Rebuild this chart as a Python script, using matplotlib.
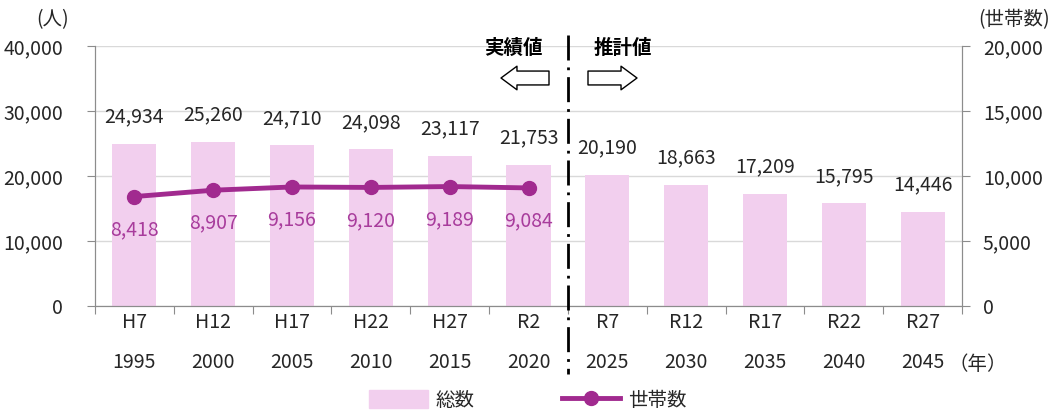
import matplotlib.pyplot as plt
from matplotlib.lines import Line2D
from matplotlib.patches import Patch
import matplotlib.transforms as mtransforms

plt.rcParams['font.family'] = ['Noto Sans CJK JP', 'DejaVu Sans']

# 和暦・西暦
wareki = ['H7', 'H12', 'H17', 'H22', 'H27', 'R2', 'R7', 'R12', 'R17', 'R22', 'R27']
seireki = ['1995', '2000', '2005', '2010', '2015', '2020', '2025', '2030', '2035', '2040', '2045']
# 総数（人）
sousu = [24934, 25260, 24710, 24098, 23117, 21753, 20190, 18663, 17209, 15795, 14446]
# 世帯数（実績値のみ）
setaisu = [8418, 8907, 9156, 9120, 9189, 9084]

BAR_COLOR = '#F2CFEE'
LINE_COLOR = '#A12A8F'
TEXT_COLOR = '#262626'
AXIS_COLOR = '#8C8C8C'
FS = 14

fig = plt.figure(figsize=(10.57, 4.12), dpi=100)
ax = fig.add_axes([95 / 1057, 1 - 306 / 412, (962 - 95) / 1057, 260 / 412])
ax2 = ax.twinx()

x = list(range(len(sousu)))
ax.bar(x, sousu, width=0.56, color=BAR_COLOR, zorder=2)
for xi, v in zip(x, sousu):
    ax.annotate(f'{v:,}', (xi, v), xytext=(0, 27), textcoords='offset pixels',
                ha='center', va='center', fontsize=FS, color=TEXT_COLOR)

ax2.plot(x[:len(setaisu)], setaisu, color=LINE_COLOR, lw=3.5, marker='o', ms=10, zorder=3)
for xi, v in zip(x, setaisu):
    ax2.annotate(f'{v:,}', (xi, v), xytext=(0, -33), textcoords='offset pixels',
                 ha='center', va='center', fontsize=FS, color='#A83C9C')

ax.set_xlim(-0.5, len(sousu) - 0.5)
ax.set_ylim(0, 40000)
ax2.set_ylim(0, 20000)
ax.set_yticks(range(0, 40001, 10000))
ax.set_yticklabels([f'{v:,}' for v in range(0, 40001, 10000)])
ax2.set_yticks(range(0, 20001, 5000))
ax2.set_yticklabels([f'{v:,}' for v in range(0, 20001, 5000)])

ax.grid(axis='y', color='#D9D9D9', lw=1, zorder=0)
ax.set_axisbelow(True)

# 目盛線は項目の境界に
ax.set_xticks([i - 0.5 for i in range(len(sousu) + 1)])
ax.set_xticklabels([])
ax.tick_params(axis='x', direction='out', length=6, color=AXIS_COLOR)
ax.tick_params(axis='y', direction='out', length=6, color=AXIS_COLOR, labelsize=FS,
               labelcolor=TEXT_COLOR, pad=17)
ax2.tick_params(axis='y', direction='out', length=6, color=AXIS_COLOR, labelsize=FS,
                labelcolor=TEXT_COLOR, pad=9)

for a in (ax, ax2):
    a.spines['top'].set_visible(False)
    for s in ('left', 'right', 'bottom'):
        a.spines[s].set_color(AXIS_COLOR)

trans = mtransforms.blended_transform_factory(ax.transData, fig.transFigure)
for xi, w, s in zip(x, wareki, seireki):
    fig.text(xi, 1 - 322 / 412, w, transform=trans, ha='center', va='center',
             fontsize=FS, color=TEXT_COLOR)
    fig.text(xi, 1 - 362 / 412, s, transform=trans, ha='center', va='center',
             fontsize=FS, color=TEXT_COLOR)

fig.text(53 / 1057, 1 - 20 / 412, '(人)', ha='center', va='center', fontsize=FS, color=TEXT_COLOR)
fig.text(1050 / 1057, 1 - 20 / 412, '(世帯数)', ha='right', va='center', fontsize=FS, color=TEXT_COLOR)
fig.text(978 / 1057, 1 - 365 / 412, '（年）', ha='center', va='center', fontsize=FS, color=TEXT_COLOR)

# 実績値と推計値の境界
fig.add_artist(Line2D([568, 568], [412 - 35, 412 - 374], transform=None, color='black',
                      lw=2, linestyle=(0, (9, 2.5, 1, 2.5))))
fig.text(513 / 1057, 1 - 48 / 412, '実績値', ha='center', va='center', fontsize=FS,
         fontweight='bold', color='black')
fig.text(623 / 1057, 1 - 48 / 412, '推計値', ha='center', va='center', fontsize=FS,
         fontweight='bold', color='black')
arrow = dict(arrowstyle='simple,head_width=1.7,head_length=1.15,tail_width=1.0',
             mutation_scale=10, fc='white', ec='black', lw=1, shrinkA=0, shrinkB=0)
ax.annotate('', xy=(501, 412 - 78), xytext=(549, 412 - 78), xycoords='figure pixels',
            textcoords='figure pixels', arrowprops=arrow)
ax.annotate('', xy=(637, 412 - 78), xytext=(588, 412 - 78), xycoords='figure pixels',
            textcoords='figure pixels', arrowprops=arrow)

handles = [Patch(color=BAR_COLOR, label='総数'),
           Line2D([], [], color=LINE_COLOR, lw=3.5, marker='o', ms=10, label='世帯数')]
fig.legend(handles=handles, loc='center', bbox_to_anchor=(528 / 1057, 1 - 400 / 412),
           ncol=2, frameon=False, fontsize=FS, handlelength=3.0, handleheight=1.0,
           columnspacing=4.5, handletextpad=0.4, labelcolor=TEXT_COLOR)

fig.savefig('out.png', dpi=100)
